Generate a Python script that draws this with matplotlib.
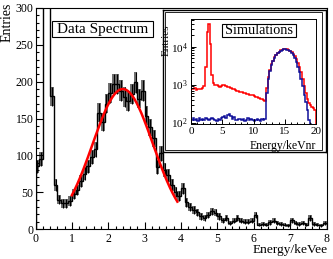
import numpy as np
import matplotlib
matplotlib.use("Agg")
import matplotlib.pyplot as plt
from matplotlib.patches import Rectangle
from matplotlib.ticker import MultipleLocator, LogLocator, NullFormatter

plt.rcParams.update({
    "font.family": "serif",
    "font.serif": ["Liberation Serif", "DejaVu Serif"],
    "mathtext.fontset": "custom",
    "mathtext.rm": "Liberation Serif",
    "mathtext.it": "Liberation Serif:italic",
})

# measured spectrum, 0.1 keVee bins from 0 to 8
DATA_EDGES = np.round(np.arange(0, 8.01, 0.1), 2)
DATA_COUNTS = [
    85, 95, 420, 420, 180, 60, 40, 35, 35, 38,
    47, 53, 65, 75, 85, 98, 108, 158, 145, 170,
    184, 197, 197, 188, 179, 174, 183, 199, 177, 188,
    154, 138, 123, 84, 103, 80, 73, 60, 50, 45,
    55, 36, 30, 26, 23, 17, 15, 19, 24, 22,
    17, 12, 15, 8, 11, 15, 11, 10, 10, 11,
    19, 6, 7, 6, 9, 11, 8, 7, 6, 5,
    12, 8, 7, 8, 6, 15, 7, 6, 5, 8,
]

# gaussian fit to the bump
FIT_AMP = 190.0
FIT_MEAN = 2.40
FIT_SIGMA = 0.83
FIT_RANGE = (1.0, 3.9)

# simulations, 0.25 keVnr bins from 0 to 20
SIM_EDGES = np.round(np.arange(0, 20.01, 0.25), 2)
SIM_RED = [
    780, 760, 800, 740, 770, 790, 760, 820, 900, 3000,
    25000, 40000, 12000, 1800, 1100, 1000, 950, 900, 880, 920,
    960, 980, 930, 880, 850, 820, 780, 760, 720, 700,
    680, 650, 640, 620, 610, 580, 570, 550, 530, 520,
    500, 470, 460, 440, 430, 420, 400, 380, 800, 1600,
    2500, 3500, 4300, 5200, 6000, 6800, 7400, 8000, 8400, 8600,
    8700, 8500, 8200, 7800, 7200, 6500, 5600, 4700, 3800, 2900,
    2100, 1400, 900, 600, 420, 330, 290, 260, 240, 220,
]
SIM_BLUE = [
    115, 130, 120, 125, 110, 135, 120, 128, 118, 130,
    125, 115, 122, 135, 128, 120, 112, 125, 118, 130,
    140, 150, 135, 160, 170, 145, 125, 138, 120, 115,
    128, 122, 118, 125, 110, 120, 130, 115, 125, 118,
    112, 120, 128, 115, 110, 122, 118, 125, 600, 1400,
    2300, 3300, 4200, 5100, 5900, 6700, 7300, 7900, 8300, 8500,
    8600, 8400, 8000, 7500, 6800, 6000, 5000, 4000, 3000, 2100,
    1400, 900, 550, 350, 220, 120, 90, 75, 60, 55,
]

W, H = 333, 259


def fx(px):
    return px / W


def fy(py):
    return 1 - py / H


fig = plt.figure(figsize=(W / 100, H / 100), dpi=100)

# ---- main spectrum
ax = fig.add_axes([fx(35.5), fy(229), (326.5 - 35.5) / W, (229 - 8) / H])
counts = np.array(DATA_COUNTS, dtype=float)
centers = 0.5 * (DATA_EDGES[:-1] + DATA_EDGES[1:])
err = np.sqrt(counts)
ax.bar(centers, 2 * err, bottom=counts - err, width=0.1, color="#707070",
       edgecolor="none", zorder=1)
ax.vlines(centers, counts - err, counts + err, color="black", lw=0.8, zorder=2)
ax.stairs(counts, DATA_EDGES, color="black", lw=1.0, zorder=3)

xf = np.linspace(*FIT_RANGE, 200)
ax.plot(xf, FIT_AMP * np.exp(-0.5 * ((xf - FIT_MEAN) / FIT_SIGMA) ** 2),
        color="red", lw=1.8, zorder=4)

ax.set_xlim(0, 8)
ax.set_ylim(0, 300)
ax.xaxis.set_major_locator(MultipleLocator(1))
ax.xaxis.set_minor_locator(MultipleLocator(0.2))
ax.yaxis.set_major_locator(MultipleLocator(50))
ax.yaxis.set_minor_locator(MultipleLocator(10))
ax.tick_params(which="both", direction="in", labelsize=8.5, width=0.8)
ax.tick_params(which="major", length=5)
ax.tick_params(which="minor", length=2.5)
ax.tick_params(axis="x", pad=3)
ax.tick_params(axis="y", pad=1.5)
for s in ax.spines.values():
    s.set_linewidth(0.8)

fig.text(fx(7.5), fy(3), "Entries", rotation=90, ha="center", va="top", size=10)
fig.text(fx(328), fy(250), "Energy/keVee", ha="right", va="center", size=9.6)

fig.add_artist(Rectangle((fx(51.7), fy(36.7)), (152.7 - 51.7) / W, (36.7 - 21) / H,
                         transform=fig.transFigure, facecolor="white",
                         edgecolor="black", lw=0.8, zorder=5))
fig.text(fx(102.5), fy(29), "Data Spectrum", ha="center", va="center", size=11,
         zorder=6)

# ---- inset pad
pad = fig.add_axes([fx(163), fy(152), (326 - 163) / W, (152 - 10) / H], zorder=2)
pad.set_xticks([])
pad.set_yticks([])
pad.set_facecolor("white")
for s in pad.spines.values():
    s.set_linewidth(1.0)
pad.add_patch(Rectangle((0.012, 0.014), 0.965, 0.972, transform=pad.transAxes,
                        fill=False, edgecolor="black", lw=0.6))

ai = fig.add_axes([fx(191), fy(124), (316 - 191) / W, (124 - 19) / H], zorder=3)
ai.stairs(SIM_RED, SIM_EDGES, color="red", lw=1.1)
ai.stairs(SIM_BLUE, SIM_EDGES, color="#10109a", lw=1.1)
ai.set_yscale("log")
ai.set_xlim(0, 20)
ai.set_ylim(92, 53500)
ai.xaxis.set_major_locator(MultipleLocator(5))
ai.xaxis.set_minor_locator(MultipleLocator(1))
ai.yaxis.set_major_locator(LogLocator(base=10, numticks=10))
ai.yaxis.set_minor_locator(LogLocator(base=10, subs=np.arange(2, 10), numticks=10))
ai.yaxis.set_minor_formatter(NullFormatter())
ai.tick_params(which="both", direction="in", labelsize=8, width=0.7)
ai.tick_params(which="major", length=3.5)
ai.tick_params(which="minor", length=1.8)
ai.tick_params(axis="x", pad=2.5)
ai.tick_params(axis="y", pad=2.5)
for s in ai.spines.values():
    s.set_linewidth(0.7)

fig.text(fx(166.5), fy(24), "Entries", rotation=90, ha="center", va="top", size=8,
         zorder=6)
fig.text(fx(316), fy(145.5), "Energy/keVnr", ha="right", va="center", size=8.5,
         zorder=6)

fig.add_artist(Rectangle((fx(221.7), fy(36.7)), (296 - 221.7) / W, (36.7 - 24) / H,
                         transform=fig.transFigure, facecolor="white",
                         edgecolor="black", lw=0.8, zorder=10))
fig.text(fx(259), fy(30.3), "Simulations", ha="center", va="center", size=10.3,
         zorder=11)

fig.savefig("out.png", dpi=100)
